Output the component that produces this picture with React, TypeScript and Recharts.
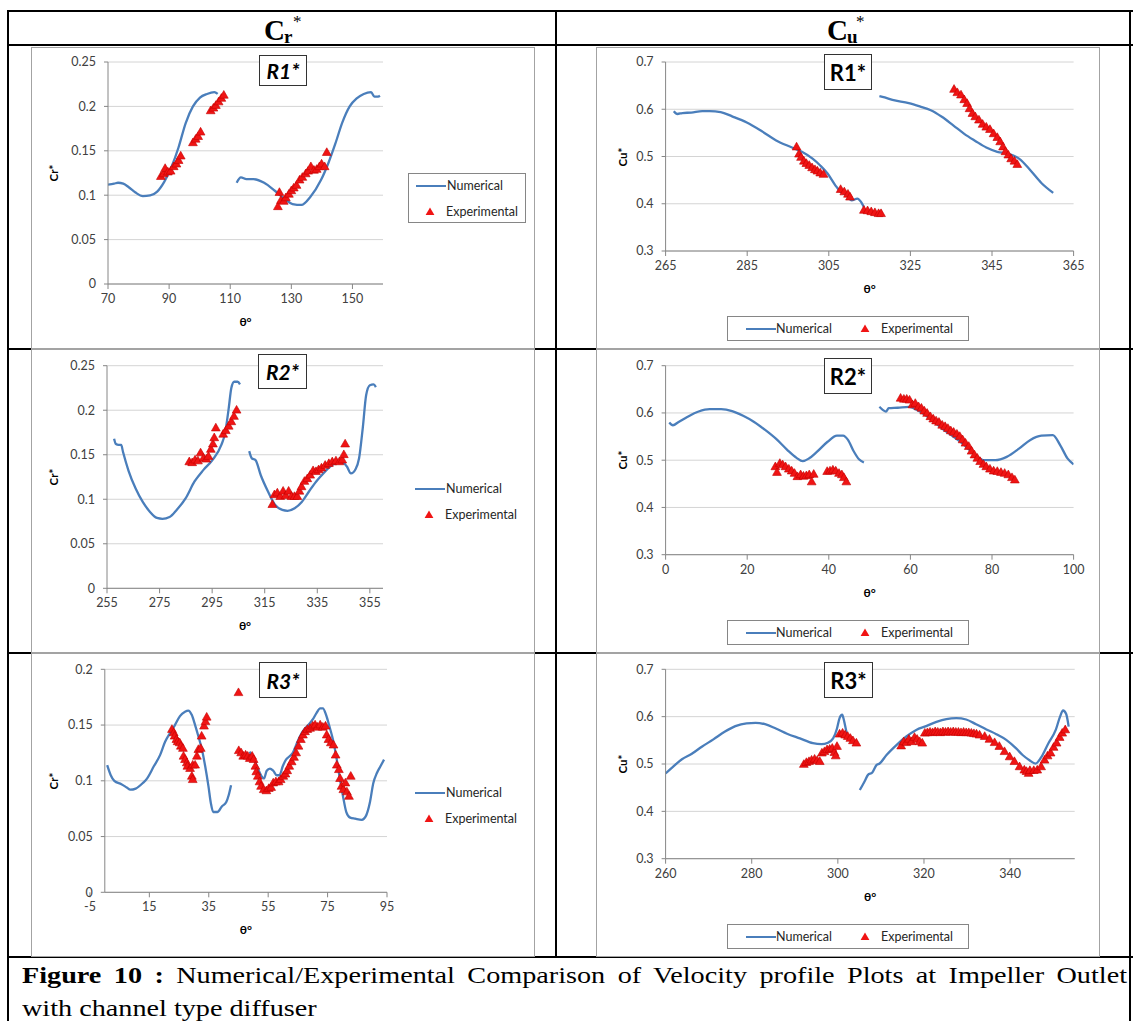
import React from 'react';
import { ComposedChart, Line, Scatter, XAxis, YAxis, CartesianGrid, Legend } from 'recharts';

type Pt = [number, number | null];

// ---- Cr*  R1 ----
const crR1Numerical: Pt[] = [
  [70, 0.112], [72, 0.113], [73.3, 0.114], [75, 0.113], [76.8, 0.109], [79, 0.103], [81.4, 0.099],
  [83.8, 0.0997], [86.1, 0.104], [88.4, 0.115], [90.8, 0.132], [93.1, 0.154], [95.4, 0.181],
  [97.8, 0.2], [100.1, 0.21], [102.4, 0.214], [104.8, 0.216], [105.9, 0.214], [109, null],
  [112.1, 0.114], [113.5, 0.12], [115.3, 0.118], [117.6, 0.118], [121.1, 0.114], [124.6, 0.105],
  [128.1, 0.095], [130.4, 0.09], [133.3, 0.089], [136.2, 0.098], [139.7, 0.117], [142.1, 0.136],
  [144.4, 0.158], [146.7, 0.182], [149.1, 0.2], [151.4, 0.209], [153.7, 0.214], [156.1, 0.216],
  [157.2, 0.211], [158.4, 0.211], [159, 0.212],
];
const crR1Experimental: Pt[] = [
  [87.3, 0.121], [88.2, 0.124], [88.7, 0.13], [89.6, 0.126], [90.5, 0.127], [91.5, 0.132], [92.4, 0.135],
  [93.1, 0.139], [93.8, 0.144], [97.8, 0.159], [98.7, 0.163], [99.5, 0.166], [100.3, 0.171],
  [103.6, 0.195], [104.5, 0.198], [105.3, 0.201], [106.2, 0.205], [107.1, 0.209], [107.9, 0.2125],
  [125.6, 0.087], [126.1, 0.103], [126.6, 0.094], [127.5, 0.093], [128.2, 0.097], [129.2, 0.101],
  [130, 0.105], [130.8, 0.108], [131.7, 0.111], [132.7, 0.117], [133.6, 0.12], [134.7, 0.124],
  [135.5, 0.127], [136.4, 0.132], [137.4, 0.128], [138.3, 0.129], [139.2, 0.132], [139.9, 0.135],
  [140.9, 0.132], [141.6, 0.148],
];

// ---- Cu*  R1 ----
const cuR1Numerical: Pt[] = [
  [267, 0.596], [267.9, 0.59], [269.1, 0.592], [271.3, 0.593], [274, 0.596], [275.8, 0.596],
  [278.5, 0.594], [281.3, 0.585], [284.9, 0.572], [288.5, 0.554], [292.1, 0.534], [295.7, 0.52],
  [298.4, 0.51], [301.1, 0.495], [302.9, 0.481], [304.7, 0.464], [306.6, 0.439], [307.9, 0.425],
  [309.3, 0.418], [310.6, 0.407], [312, 0.411], [312.9, 0.404], [313.6, 0.393], [315.5, null],
  [317.4, 0.628], [318.7, 0.625], [320.6, 0.62], [324.6, 0.613], [327.3, 0.606], [330, 0.598],
  [332.7, 0.584], [335.5, 0.566], [338.2, 0.548], [340.9, 0.533], [343.6, 0.519], [346.3, 0.51],
  [349, 0.506], [351.7, 0.495], [354.4, 0.471], [357.1, 0.444], [360, 0.423],
];
const cuR1Experimental: Pt[] = [
  [297.1, 0.52], [297.7, 0.505], [298.2, 0.498], [298.9, 0.49], [299.5, 0.485], [300.2, 0.481],
  [300.9, 0.476], [301.6, 0.472], [302.2, 0.469], [302.9, 0.465], [303.7, 0.462], [307.9, 0.43],
  [308.8, 0.425], [309.7, 0.42], [310.2, 0.414], [313.6, 0.386], [314.5, 0.385], [315.4, 0.383],
  [316.3, 0.381], [317.2, 0.379], [317.8, 0.379], [335.7, 0.642], [336.5, 0.635], [337.4, 0.63],
  [338.2, 0.62], [338.9, 0.612], [339.5, 0.601], [340.2, 0.591], [340.9, 0.584], [341.8, 0.577],
  [342.7, 0.568], [343.6, 0.562], [344.5, 0.557], [345.4, 0.548], [346.3, 0.54], [347, 0.531],
  [347.7, 0.52], [348.3, 0.51], [349, 0.503], [349.7, 0.495], [350.5, 0.49], [351.2, 0.483],
];

// ---- Cr*  R2 ----
const crR2Numerical: Pt[] = [
  [257.7, 0.168], [258.4, 0.162], [259.4, 0.161], [260.4, 0.161], [261.1, 0.153], [263.2, 0.132],
  [265.9, 0.112], [268.6, 0.097], [271.3, 0.086], [274, 0.079], [276.1, 0.078], [278.8, 0.08],
  [281.5, 0.088], [284.9, 0.101], [288.3, 0.12], [291.7, 0.133], [295.1, 0.144], [298.5, 0.161],
  [299.9, 0.174], [301.3, 0.202], [302.3, 0.225], [303.4, 0.232], [304.7, 0.232], [305.6, 0.229],
  [307.5, null], [309.1, 0.154], [310.1, 0.146], [311.5, 0.144], [313.5, 0.127], [316.2, 0.109],
  [318.9, 0.094], [321.7, 0.088], [323.7, 0.087], [326.4, 0.09], [329.1, 0.097], [331.9, 0.109],
  [334.6, 0.12], [337.3, 0.129], [340, 0.137], [342.8, 0.141], [344.8, 0.141], [346.2, 0.137],
  [347.8, 0.129], [349.6, 0.134], [350.9, 0.146], [352.3, 0.18], [353.6, 0.217], [355, 0.228],
  [356.4, 0.229], [357.3, 0.226],
];
const crR2Experimental: Pt[] = [
  [286.3, 0.142], [287.4, 0.141], [288.5, 0.144], [289.6, 0.143], [290.6, 0.152], [291.7, 0.146],
  [292.8, 0.145], [293.6, 0.148], [294.5, 0.156], [295.3, 0.162], [295.8, 0.169], [296.4, 0.18],
  [299.2, 0.173], [300.2, 0.177], [301.3, 0.182], [302.3, 0.187], [303.3, 0.193], [304.3, 0.2],
  [317.9, 0.094], [318.7, 0.105], [319.8, 0.107], [320.9, 0.103], [322, 0.109], [323, 0.104],
  [324.1, 0.109], [325.2, 0.103], [326.3, 0.103], [327.4, 0.103], [328.2, 0.109], [329, 0.114],
  [330.1, 0.12], [331.2, 0.123], [332.3, 0.127], [333.4, 0.132], [334.5, 0.131], [335.5, 0.133],
  [336.6, 0.135], [338, 0.138], [339.4, 0.14], [340.7, 0.142], [342.1, 0.143], [343.4, 0.142],
  [344.5, 0.144], [345.1, 0.15], [345.6, 0.162],
];

// ---- Cu*  R2 ----
const cuR2Numerical: Pt[] = [
  [0.9, 0.58], [1.8, 0.574], [3.2, 0.581], [5.4, 0.592], [8.1, 0.603], [10.8, 0.608], [13.6, 0.608],
  [16.3, 0.604], [19, 0.594], [21.7, 0.581], [24.4, 0.564], [27.1, 0.545], [29.8, 0.522],
  [32.1, 0.505], [33.6, 0.498], [35.2, 0.504], [37, 0.517], [39.7, 0.539], [42, 0.552], [43.5, 0.552],
  [44.7, 0.543], [46.1, 0.519], [47.4, 0.502], [48.6, 0.495], [50.5, null], [52.4, 0.613],
  [53.3, 0.606], [54, 0.603], [54.7, 0.61], [56.9, 0.611], [59.6, 0.613], [62.3, 0.603], [65, 0.587],
  [67.8, 0.567], [70.5, 0.55], [73.2, 0.532], [75.9, 0.511], [78.1, 0.5], [80.8, 0.5], [83.6, 0.507],
  [86.7, 0.525], [89.4, 0.543], [92.1, 0.552], [94.9, 0.553], [96.7, 0.532], [98.5, 0.504],
  [100, 0.491],
];
const cuR2Experimental: Pt[] = [
  [26.9, 0.486], [27.3, 0.474], [28, 0.493], [28.7, 0.49], [29.4, 0.486], [30.2, 0.481], [30.9, 0.477],
  [31.6, 0.472], [32.3, 0.465], [33.1, 0.469], [33.8, 0.466], [34.5, 0.467], [35.2, 0.469],
  [35.8, 0.454], [36.3, 0.47], [39.6, 0.476], [40.3, 0.477], [41, 0.479], [41.7, 0.477], [42.5, 0.472],
  [43.2, 0.469], [43.7, 0.463], [44.3, 0.454], [57.6, 0.631], [58.4, 0.629], [59.1, 0.629],
  [59.8, 0.627], [60.5, 0.617], [61.2, 0.62], [62, 0.613], [62.7, 0.61], [63.4, 0.604], [64.1, 0.599],
  [64.9, 0.592], [65.6, 0.587], [66.3, 0.583], [67, 0.58], [67.8, 0.574], [68.5, 0.571], [69.2, 0.567],
  [69.9, 0.562], [70.6, 0.559], [71.4, 0.555], [72.1, 0.55], [72.8, 0.543], [73.5, 0.536],
  [74.3, 0.529], [75, 0.519], [75.7, 0.511], [76.4, 0.504], [77.1, 0.497], [77.9, 0.491],
  [78.6, 0.486], [79.5, 0.481], [80.4, 0.477], [81.3, 0.476], [82.2, 0.474], [83.1, 0.472],
  [84, 0.469], [84.9, 0.463], [85.6, 0.458],
];

// ---- Cr*  R3 ----
const crR3Numerical: Pt[] = [
  [0.8, 0.114], [2, 0.105], [3.2, 0.1], [5.6, 0.097], [7.4, 0.094], [8.6, 0.092], [10.4, 0.093],
  [12.8, 0.098], [14.2, 0.102], [16.5, 0.113], [18.6, 0.123], [20.3, 0.135], [22, 0.143], [23.6, 0.15],
  [25.3, 0.158], [27, 0.162], [28.1, 0.163], [29.3, 0.159], [30.4, 0.15], [31.5, 0.14], [32.7, 0.128],
  [33.8, 0.113], [34.9, 0.095], [35.7, 0.08], [36.5, 0.072], [37.9, 0.072], [39.4, 0.077],
  [40.9, 0.081], [41.7, 0.087], [42.5, 0.096], [45.5, null], [48.7, 0.126], [49.5, 0.123],
  [50.6, 0.117], [51.7, 0.11], [52.8, 0.104], [53.6, 0.102], [54.5, 0.109], [55.6, 0.111],
  [56.7, 0.109], [57.9, 0.105], [58.8, 0.105], [59.9, 0.113], [61, 0.119], [62.2, 0.122],
  [63.3, 0.125], [64.4, 0.132], [65.7, 0.14], [67.1, 0.146], [68.5, 0.15], [70, 0.155], [71.3, 0.161],
  [72.5, 0.165], [73.4, 0.165], [74.5, 0.159], [75.6, 0.149], [76.8, 0.137], [77.9, 0.122],
  [79, 0.104], [80.2, 0.086], [81.3, 0.072], [82.6, 0.067], [84.3, 0.066], [86.5, 0.065], [88, 0.069],
  [89.2, 0.08], [90.4, 0.098], [91.6, 0.107], [92.8, 0.113], [94, 0.119],
];
const crR3Experimental: Pt[] = [
  [22.6, 0.146], [23.2, 0.143], [23.5, 0.14], [24.1, 0.137], [24.5, 0.135], [25.2, 0.134], [25.6, 0.131],
  [26.3, 0.129], [26.5, 0.122], [27, 0.119], [27.6, 0.116], [27.8, 0.113], [28.7, 0.111], [29.6, 0.114],
  [30.4, 0.114], [29.3, 0.104], [29.6, 0.101], [31, 0.122], [31.5, 0.128], [32.3, 0.129], [32.6, 0.14],
  [33.4, 0.149], [33.9, 0.153], [34.3, 0.157], [45, 0.179],
  [45.1, 0.127], [45.9, 0.125], [46.6, 0.122], [47.4, 0.123], [48.1, 0.122], [48.8, 0.12], [49.6, 0.122],
  [50.1, 0.119], [50.7, 0.113], [51, 0.108], [51.5, 0.104], [52.1, 0.099], [52.6, 0.095], [53.5, 0.092],
  [54.4, 0.091], [55.2, 0.093], [56, 0.094], [56.7, 0.098], [57.6, 0.099], [58.5, 0.099], [59.2, 0.101],
  [60.1, 0.104], [60.8, 0.106], [61.4, 0.109], [62.1, 0.113], [62.9, 0.117], [63.7, 0.121],
  [64.4, 0.125], [65.2, 0.131], [66, 0.137], [66.7, 0.141], [67.4, 0.144], [68.2, 0.146], [69.1, 0.147],
  [70, 0.149], [70.8, 0.15], [71.6, 0.148], [72.5, 0.15], [73.4, 0.148], [74.3, 0.149], [74.7, 0.141],
  [75.3, 0.137], [76.1, 0.134], [77, 0.132], [77.7, 0.123], [78.1, 0.114], [78.8, 0.11], [79.2, 0.102],
  [79.7, 0.095], [80.3, 0.092], [81, 0.098], [81.5, 0.09], [82.2, 0.086], [82.8, 0.104],
];

// ---- Cu*  R3 ----
const cuR3Numerical: Pt[] = [
  [260, 0.48], [261.7, 0.494], [263.8, 0.51], [266, 0.521], [268.5, 0.537], [271.1, 0.552],
  [273.7, 0.568], [276.2, 0.58], [278.8, 0.586], [280.9, 0.587], [283.1, 0.584], [285.6, 0.575],
  [288.2, 0.564], [291.2, 0.554], [294.2, 0.544], [296.2, 0.542], [297.7, 0.545], [298.9, 0.554],
  [299.8, 0.575], [300.4, 0.597], [301, 0.604], [301.4, 0.593], [302, 0.568], [302.4, 0.558],
  [303.7, null], [305.1, 0.445], [306.2, 0.463], [307, 0.477], [308, 0.482], [309, 0.498],
  [309.7, 0.501], [311.3, 0.519], [313.6, 0.54], [315.9, 0.558], [318.2, 0.572], [320.5, 0.58],
  [322.9, 0.589], [325.2, 0.595], [327.5, 0.597], [329.8, 0.594], [332.1, 0.584], [334.5, 0.573],
  [336.8, 0.563], [339.1, 0.551], [341.4, 0.533], [342.9, 0.519], [344.5, 0.508], [345.9, 0.501],
  [347.2, 0.514], [348.9, 0.544], [350.6, 0.572], [351.6, 0.6], [352.3, 0.613], [353, 0.606],
  [353.6, 0.579],
];
const cuR3Experimental: Pt[] = [
  [292.1, 0.499], [292.7, 0.503], [293.3, 0.505], [293.9, 0.508], [294.6, 0.51], [295.2, 0.507],
  [295.8, 0.505], [296.3, 0.523], [296.9, 0.526], [297.5, 0.53], [298.1, 0.531], [298.7, 0.533],
  [299.2, 0.524], [299.5, 0.517], [299.8, 0.537], [300.4, 0.563], [301.1, 0.565], [301.7, 0.561],
  [302.3, 0.558], [302.9, 0.554], [303.5, 0.549], [304.3, 0.544],
  [314.7, 0.538], [315.3, 0.547], [315.9, 0.545], [316.5, 0.552], [317.1, 0.547], [317.8, 0.556],
  [318.4, 0.552], [319, 0.547], [319.6, 0.544], [320.2, 0.565], [320.8, 0.566], [321.4, 0.567],
  [322, 0.566], [322.6, 0.568], [323.2, 0.567], [323.8, 0.566], [324.4, 0.568], [325, 0.567],
  [325.6, 0.568], [326.2, 0.567], [326.8, 0.568], [327.4, 0.567], [328, 0.567], [328.6, 0.566],
  [329.2, 0.567], [329.8, 0.566], [330.4, 0.566], [331, 0.565], [331.6, 0.564], [332.2, 0.563],
  [332.9, 0.561], [334.1, 0.558], [335.2, 0.552], [336.4, 0.545], [337.5, 0.537], [338.7, 0.526],
  [339.9, 0.515], [341, 0.505], [342.2, 0.494], [343.3, 0.487], [343.8, 0.484], [344.3, 0.48],
  [344.6, 0.486], [345.5, 0.486], [346.3, 0.487], [347.2, 0.494], [348, 0.508], [348.7, 0.517],
  [349.4, 0.523], [350.1, 0.535], [350.8, 0.544], [351.5, 0.556], [352.1, 0.565], [352.8, 0.572],
];

// axis ticks
const crR1Ticks = [70, 90, 110, 130, 150];
const crR2Ticks = [255, 275, 295, 315, 335, 355];
const crR3Ticks = [-5, 15, 35, 55, 75, 95];
const cuR1Ticks = [265, 285, 305, 325, 345, 365];
const cuR2Ticks = [0, 20, 40, 60, 80, 100];
const cuR3Ticks = [260, 280, 300, 320, 340];
const crYTicks = [0, 0.05, 0.1, 0.15, 0.2, 0.25];
const crR3YTicks = [0, 0.05, 0.1, 0.15, 0.2];
const cuYTicks = [0.3, 0.4, 0.5, 0.6, 0.7];

const NUM_COLOR = '#4a7ebb';
const EXP_COLOR = '#f01414';
const AXIS = '#868686';
const TICK = '#404040';
const FONT = 'Lato, "Open Sans", sans-serif';
const SERIF = '"Liberation Serif", "Times New Roman", serif';
const YW = 60;
const XH = 50;

const toRows = (pts: Pt[]) => pts.map(([x, y]) => ({ x, y }));

function Triangle(props: any) {
  const { cx, cy } = props;
  if (cx == null || cy == null) return null;
  return (
    <path
      d={`M${cx},${cy - 4.8}L${cx + 4.4},${cy + 2.9}L${cx - 4.4},${cy + 2.9}Z`}
      fill={EXP_COLOR}
      stroke="#c40000"
      strokeWidth={0.6}
    />
  );
}

type LegendKind = 'box' | 'plain' | 'bottom';

function makeLegend(kind: LegendKind) {
  return (props: any) => {
    // line entry first, like the Excel legend
    const payload: any[] = [...(props.payload || [])].sort(
      (a, b) => (a.type === 'triangle' ? 1 : 0) - (b.type === 'triangle' ? 1 : 0),
    );
    const vertical = kind !== 'bottom';
    return (
      <div
        style={{
          position: 'relative',
          width: vertical ? 118 : 242,
          height: vertical ? 50 : 25,
          boxSizing: 'border-box',
          border: kind === 'plain' ? 'none' : `1px solid ${AXIS}`,
          fontFamily: FONT,
          fontSize: 12.5,
          color: '#262626',
        }}
      >
        {payload.map((p, i) => {
          const isLine = p.type !== 'triangle';
          const rowY = vertical ? (i === 0 ? 12 : 38) : 12;
          const iconX = vertical ? (isLine ? 7 : 21) : isLine ? 18 : 137;
          const textX = vertical ? (isLine ? 38 : 37) : isLine ? 48 : 153;
          return (
            <React.Fragment key={p.value}>
              {isLine ? (
                <div
                  style={{
                    position: 'absolute',
                    left: iconX,
                    top: rowY - 1.2,
                    width: 30,
                    height: 2.4,
                    background: p.color,
                  }}
                />
              ) : (
                <svg width={10} height={10} style={{ position: 'absolute', left: iconX - 5, top: rowY - 5 }}>
                  <path d="M5,0.4L9.4,8.1L0.6,8.1Z" fill={EXP_COLOR} />
                </svg>
              )}
              <div
                style={{
                  position: 'absolute',
                  left: textX,
                  top: rowY - 9,
                  lineHeight: '17px',
                  whiteSpace: 'nowrap',
                }}
              >
                {p.value}
              </div>
            </React.Fragment>
          );
        })}
      </div>
    );
  };
}

interface PanelProps {
  left: number;
  top: number;
  height: number;
  plot: { top: number; bottom: number; left: number; right: number };
  xDomain: [number, number];
  xTicks: number[];
  yDomain: [number, number];
  yTicks: number[];
  yLabel: string;
  yLabelX: number;
  title: string;
  italic: boolean;
  titleBox: { left: number; top: number; width: number; height: number };
  legend: LegendKind;
  legendPos: { left: number; top: number };
  numerical: Pt[];
  experimental: Pt[];
}

const W = 504;

function Panel(p: PanelProps) {
  const margin = {
    top: p.plot.top,
    left: p.plot.left - YW,
    right: W - p.plot.right,
    bottom: p.height - p.plot.bottom - XH,
  };
  const midY = (p.plot.top + p.plot.bottom) / 2;
  const midX = (p.plot.left + p.plot.right) / 2;
  return (
    <div style={{ position: 'absolute', left: p.left, top: p.top, width: W, height: p.height, background: '#fff' }}>
      <ComposedChart width={W} height={p.height} margin={margin}>
        <CartesianGrid vertical={false} stroke="#d4d4d4" strokeWidth={1} />
        <XAxis
          type="number"
          dataKey="x"
          domain={p.xDomain}
          ticks={p.xTicks}
          allowDataOverflow
          interval={0}
          height={XH}
          tickSize={5}
          tickMargin={5}
          axisLine={{ stroke: AXIS }}
          tickLine={{ stroke: AXIS }}
          tick={{ fill: TICK, fontSize: 12.5, fontFamily: FONT }}
        />
        <YAxis
          type="number"
          dataKey="y"
          domain={p.yDomain}
          ticks={p.yTicks}
          allowDataOverflow
          interval={0}
          width={YW}
          tickSize={4}
          tickMargin={8}
          axisLine={{ stroke: AXIS }}
          tickLine={{ stroke: AXIS }}
          tick={{ fill: TICK, fontSize: 12.5, fontFamily: FONT }}
        />
        <Line
          data={toRows(p.numerical)}
          dataKey="y"
          name="Numerical"
          type="monotone"
          stroke={NUM_COLOR}
          strokeWidth={2.3}
          dot={false}
          activeDot={false}
          legendType="plainline"
          isAnimationActive={false}
        />
        <Scatter
          data={toRows(p.experimental)}
          dataKey="y"
          name="Experimental"
          fill={EXP_COLOR}
          shape={Triangle}
          legendType="triangle"
          isAnimationActive={false}
        />
        <Legend
          layout="horizontal"
          verticalAlign="middle"
          align="center"
          content={makeLegend(p.legend)}
          wrapperStyle={{ left: p.legendPos.left, top: p.legendPos.top, width: 'auto', height: 'auto' }}
        />
      </ComposedChart>
      <div
        style={{
          position: 'absolute',
          left: p.yLabelX - 30,
          top: midY - 8,
          width: 60,
          height: 16,
          lineHeight: '16px',
          textAlign: 'center',
          transform: 'rotate(-90deg)',
          fontFamily: FONT,
          fontWeight: 700,
          fontSize: 11.5,
          color: '#000',
        }}
      >
        {p.yLabel}
      </div>
      <div
        style={{
          position: 'absolute',
          left: midX - 30,
          top: p.plot.bottom + 30,
          width: 60,
          height: 16,
          lineHeight: '16px',
          textAlign: 'center',
          fontFamily: FONT,
          fontWeight: 700,
          fontSize: 12,
          color: '#000',
        }}
      >
        θ°
      </div>
      <div
        style={{
          position: 'absolute',
          left: p.titleBox.left,
          top: p.titleBox.top,
          width: p.titleBox.width,
          height: p.titleBox.height,
          boxSizing: 'border-box',
          border: '1.5px solid #333',
          background: '#fff',
          display: 'flex',
          alignItems: 'center',
          justifyContent: 'center',
          fontFamily: FONT,
          fontWeight: 700,
          fontStyle: p.italic ? 'italic' : 'normal',
          fontSize: p.italic ? 21 : 22,
          color: '#000',
        }}
      >
        {p.title}
      </div>
      <div
        style={{
          position: 'absolute',
          inset: 0,
          border: '1.5px solid #a3a3a3',
          pointerEvents: 'none',
        }}
      />
    </div>
  );
}

function HeaderCell({ center, sub }: { center: number; sub: string }) {
  return (
    <div
      style={{
        position: 'absolute',
        left: center - 40,
        top: 11,
        width: 80,
        height: 34,
        fontFamily: SERIF,
        color: '#000',
      }}
    >
      <span style={{ position: 'absolute', left: 22, top: 2, fontSize: 29, fontWeight: 700, lineHeight: '34px' }}>C</span>
      <span style={{ position: 'absolute', left: 42, top: 14, fontSize: 19, fontWeight: 700, lineHeight: '24px' }}>{sub}</span>
      <span style={{ position: 'absolute', left: 51, top: 1, fontSize: 17, lineHeight: '20px' }}>*</span>
    </div>
  );
}

const line = (l: number, t: number, w: number, h: number, key: string) => (
  <div key={key} style={{ position: 'absolute', left: l, top: t, width: w, height: h, background: '#000' }} />
);

const CAPTION_SCALE = 1.2;

export default function App() {
  return (
    <div style={{ position: 'absolute', left: 0, top: 0, width: 1133, height: 1021, background: '#fff', overflow: 'hidden' }}>
      {line(8, 10, 1125, 2, 'top')}
      {line(7, 10, 2, 1011, 'left')}
      {line(1129, 10, 2, 1011, 'right')}
      {line(555, 10, 2, 947, 'mid')}
      {line(8, 44, 1125, 2, 'hdr')}
      {line(8, 348, 1125, 2, 'r1')}
      {line(8, 652, 1125, 2, 'r2')}
      {line(8, 956, 1125, 2, 'r3')}

      <HeaderCell center={282} sub="r" />
      <HeaderCell center={845} sub="u" />

      <Panel
        left={31}
        top={47}
        height={302}
        plot={{ top: 15, bottom: 237, left: 77, right: 352 }}
        xDomain={[70, 160]}
        xTicks={crR1Ticks}
        yDomain={[0, 0.25]}
        yTicks={crYTicks}
        yLabel="Cr*"
        yLabelX={23}
        title="R1*"
        italic
        titleBox={{ left: 228, top: 8, width: 48, height: 31 }}
        legend="box"
        legendPos={{ left: 377, top: 126 }}
        numerical={crR1Numerical}
        experimental={crR1Experimental}
      />
      <Panel
        left={596}
        top={47}
        height={302}
        plot={{ top: 15, bottom: 204, left: 69.6, right: 477.6 }}
        xDomain={[265, 365]}
        xTicks={cuR1Ticks}
        yDomain={[0.3, 0.7]}
        yTicks={cuYTicks}
        yLabel="Cu*"
        yLabelX={27}
        title="R1*"
        italic={false}
        titleBox={{ left: 228, top: 7, width: 48, height: 36 }}
        legend="bottom"
        legendPos={{ left: 131, top: 269 }}
        numerical={cuR1Numerical}
        experimental={cuR1Experimental}
      />
      <Panel
        left={31}
        top={349}
        height={304}
        plot={{ top: 16.7, bottom: 239.3, left: 76, right: 352 }}
        xDomain={[255, 360]}
        xTicks={crR2Ticks}
        yDomain={[0, 0.25]}
        yTicks={crYTicks}
        yLabel="Cr*"
        yLabelX={23}
        title="R2*"
        italic
        titleBox={{ left: 227, top: 5, width: 49, height: 35 }}
        legend="plain"
        legendPos={{ left: 377, top: 128 }}
        numerical={crR2Numerical}
        experimental={crR2Experimental}
      />
      <Panel
        left={596}
        top={349}
        height={304}
        plot={{ top: 16.7, bottom: 205.7, left: 69.6, right: 477.6 }}
        xDomain={[0, 100]}
        xTicks={cuR2Ticks}
        yDomain={[0.3, 0.7]}
        yTicks={cuYTicks}
        yLabel="Cu*"
        yLabelX={27}
        title="R2*"
        italic={false}
        titleBox={{ left: 228, top: 9, width: 48, height: 36 }}
        legend="bottom"
        legendPos={{ left: 131, top: 271 }}
        numerical={cuR2Numerical}
        experimental={cuR2Experimental}
      />
      <Panel
        left={31}
        top={653}
        height={304}
        plot={{ top: 16.3, bottom: 239.3, left: 73.8, right: 356 }}
        xDomain={[0, 95]}
        xTicks={crR3Ticks}
        yDomain={[0, 0.2]}
        yTicks={crR3YTicks}
        yLabel="Cr*"
        yLabelX={23}
        title="R3*"
        italic
        titleBox={{ left: 228, top: 9, width: 48, height: 36 }}
        legend="plain"
        legendPos={{ left: 377, top: 128 }}
        numerical={crR3Numerical}
        experimental={crR3Experimental}
      />
      <Panel
        left={596}
        top={653}
        height={304}
        plot={{ top: 16.3, bottom: 205.7, left: 69.6, right: 478.7 }}
        xDomain={[260, 355]}
        xTicks={cuR3Ticks}
        yDomain={[0.3, 0.7]}
        yTicks={cuYTicks}
        yLabel="Cu*"
        yLabelX={27}
        title="R3*"
        italic={false}
        titleBox={{ left: 228, top: 9, width: 49, height: 36 }}
        legend="bottom"
        legendPos={{ left: 131, top: 271 }}
        numerical={cuR3Numerical}
        experimental={cuR3Experimental}
      />

      <div
        style={{
          position: 'absolute',
          left: 22,
          top: 962,
          width: 1105 / CAPTION_SCALE,
          fontFamily: SERIF,
          fontSize: 23.5,
          lineHeight: '27px',
          color: '#000',
          textAlign: 'justify',
          textAlignLast: 'justify',
          whiteSpace: 'nowrap',
          transform: `scaleX(${CAPTION_SCALE})`,
          transformOrigin: 'left top',
        }}
      >
        <b>Figure 10 :</b> Numerical/Experimental Comparison of Velocity profile Plots at Impeller Outlet
      </div>
      <div
        style={{
          position: 'absolute',
          left: 22,
          top: 995,
          fontFamily: SERIF,
          fontSize: 23.5,
          lineHeight: '27px',
          color: '#000',
          whiteSpace: 'nowrap',
          transform: `scaleX(${CAPTION_SCALE})`,
          transformOrigin: 'left top',
        }}
      >
        with channel type diffuser
      </div>
    </div>
  );
}
